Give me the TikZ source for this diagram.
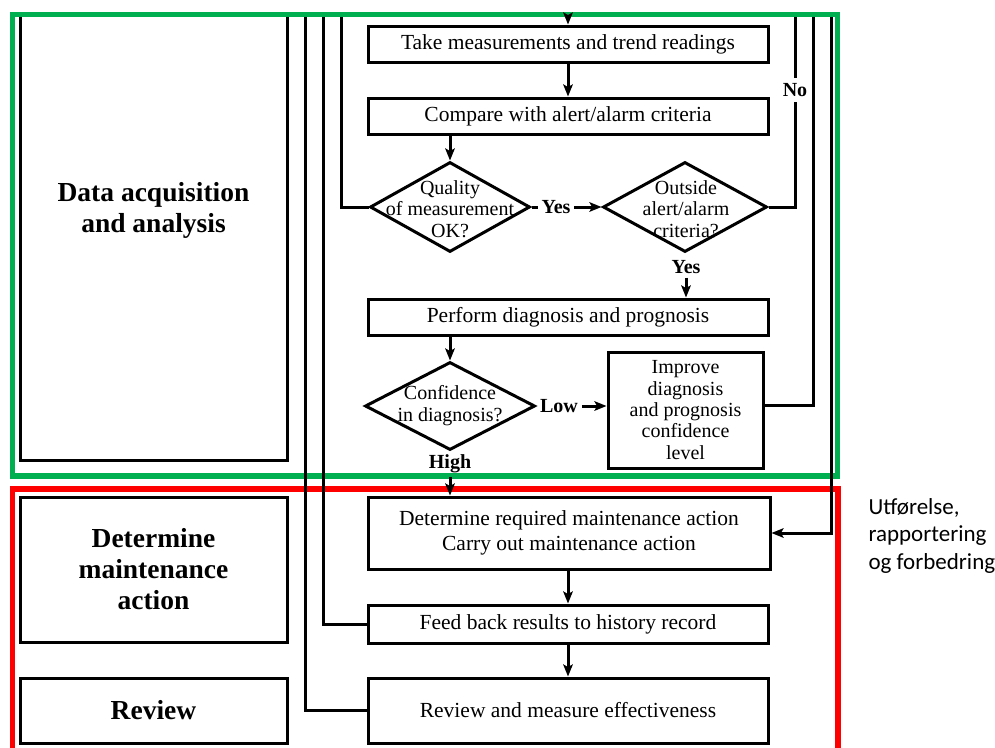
\documentclass[tikz,border=0pt]{standalone}
\usepackage{fontspec}
\setmainfont{Liberation Serif}
\newfontfamily\notefont{Carlito}
\usetikzlibrary{arrows.meta,shapes.geometric}

\definecolor{framegreen}{RGB}{0,176,80}
\definecolor{framered}{RGB}{255,0,0}

\begin{document}
\begin{tikzpicture}[x=1pt,y=-1pt,line width=3pt,
  arr/.style={-{Stealth[length=12pt,width=9.5pt,inset=2.5pt]}},
  stepbox/.style={draw,rectangle,inner sep=0pt,minimum width=400pt,minimum height=36pt,
    align=center,font=\fontsize{21.5}{25}\selectfont},
  decision/.style={draw,diamond,inner sep=0pt},
  dtext/.style={align=center,inner sep=0pt,font=\fontsize{20}{21.5}\selectfont},
  branch/.style={inner sep=2.5pt,font=\fontsize{20}{22}\selectfont\bfseries},
  lane/.style={draw,rectangle,inner sep=0pt,minimum width=267pt,align=center,
    font=\fontsize{27.5}{31}\selectfont\bfseries},
  lanetext/.style={align=center,inner sep=0pt,font=\fontsize{27.5}{31}\selectfont\bfseries},
  frame/.style={line width=5.5pt}]

\useasboundingbox (0,0) rectangle (995,747);

% ---- phase frames (drawn first, the flow lies on top) ----
\draw[frame,framegreen] (12.5,14.5) rectangle (837.5,476);
\draw[frame,framered] (12.5,489) rectangle (838,775);

% ---- left column: phase boxes ----
\coordinate (datl) at (20,17);
\coordinate (datr) at (287,17);
\draw (datl) -- (20,460) -- (287,460) -- (datr);
\node[lanetext] (datext) at (153.5,210) {Data acquisition\\and analysis};
\node[lane,minimum height=145pt] (dmbox) at (153.5,569.5) {Determine\\maintenance\\action};
\node[lane,minimum height=65pt] (rvbox) at (153.5,710.5) {Review};

% ---- main flow ----
\node[stepbox] (box1) at (568,44) {Take measurements and trend readings};
\node[stepbox] (box2) at (568,116) {Compare with alert/alarm criteria};
\node[decision,minimum width=160pt,minimum height=90pt] (q) at (450,207) {};
\node[dtext] (qtext) at (450,209) {Quality\\of measurement\\OK?};
\node[decision,minimum width=164pt,minimum height=90pt] (o) at (685,207) {};
\node[dtext] (otext) at (686,209) {Outside\\alert/alarm\\criteria?};
\node[stepbox] (box3) at (568,317) {Perform diagnosis and prognosis};
\node[decision,minimum width=170pt,minimum height=88pt] (c) at (450,406) {};
\node[dtext,font=\fontsize{20}{22}\selectfont] (ctext) at (450,406) {Confidence\\in diagnosis?};
\node[stepbox,minimum width=155pt,minimum height=116pt,font=\fontsize{20}{21.3}\selectfont]
  (imp) at (685.5,410) {Improve\\diagnosis\\and prognosis\\confidence\\level};
\node[stepbox,minimum width=402pt,minimum height=72pt,font=\fontsize{21.5}{25}\selectfont]
  (det) at (569,533) {Determine required maintenance action\\Carry out maintenance action};
\node[stepbox,minimum height=38pt] (feed) at (568,624) {Feed back results to history record};
\node[stepbox,minimum height=65pt] (rev) at (568,710.5) {Review and measure effectiveness};

% ---- branch labels ----
\node[branch] (yes1) at (556,207) {Yes};
\node[branch] (yes2) at (686,267) {Yes};
\node[branch] (low) at (559,406) {Low};
\node[branch] (high) at (450,464) {High};
\node[branch,inner sep=4pt] (no) at (795,90) {No};

% ---- loose ends of the return lines ----
\coordinate (t568) at (568,17);
\coordinate (t341) at (341,17);
\coordinate (t323) at (323,17);
\coordinate (t305) at (305,17);
\coordinate (t795) at (795,17);
\coordinate (t813) at (813,17);
\coordinate (t831) at (831,17);

% ---- connectors ----
\draw[arr] (t568) -- (box1.north);
\draw[arr] (box1) -- (box2);
\draw[arr] (box2.south -| q.north) -- (q.north);
\draw (q.east) -- (yes1.west);
\draw[arr] (yes1.east) -- (o.west);
\draw[arr] (yes2.south) -- (yes2.south |- box3.north);
\draw[arr] (box3.south -| c.north) -- (c.north);
\draw[arr] (low.east) -- (low.east -| imp.west);
\draw[arr] (high.south) -- (high.south |- det.north);
\draw[arr] (feed.north |- det.south) -- (feed.north);
\draw[arr] (feed) -- (rev);

\draw (t341) |- (q.west);
\draw (t323) |- (feed.west);
\draw (t305) |- (rev.west);
\draw (t795) -- (no.north);
\draw (no.south) |- (o.east);
\draw ([yshift=5pt]imp.east) -| (t813);
\draw[arr] (t831) |- (det.east);

% ---- side note ----
\node[anchor=north west,align=left,inner sep=0pt,font=\notefont\fontsize{23}{27.5}\selectfont]
  (note) at (867,497) {Utførelse,\\rapportering\\og forbedring};
\end{tikzpicture}
\end{document}
